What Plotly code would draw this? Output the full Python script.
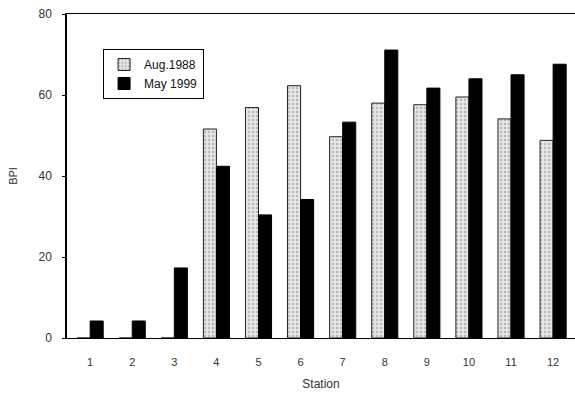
import plotly.graph_objects as go

stations = [1, 2, 3, 4, 5, 6, 7, 8, 9, 10, 11, 12]
aug_1988 = [0, 0, 0, 51.6, 56.9, 62.3, 49.7, 58.0, 57.6, 59.5, 54.1, 48.8]
may_1999 = [4.2, 4.2, 17.3, 42.4, 30.4, 34.2, 53.3, 71.1, 61.7, 64.0, 65.0, 67.6]
y_ticks = [0, 20, 40, 60, 80]

font_family = "Liberation Sans, Arial, sans-serif"

fig = go.Figure()
fig.add_trace(go.Bar(
    x=stations, y=aug_1988, name="Aug.1988",
    marker=dict(color="#d9d9d9", line=dict(color="#222", width=1),
                pattern=dict(shape=".", fgcolor="#8a8a8a", bgcolor="#e6e6e6", size=4, solidity=0.3)),
))
fig.add_trace(go.Bar(
    x=stations, y=may_1999, name="May 1999",
    marker=dict(color="#000000", line=dict(color="#000", width=1)),
))

fig.update_layout(
    width=575, height=396,
    margin=dict(l=67, r=0, t=14, b=58),
    paper_bgcolor="white", plot_bgcolor="white",
    barmode="group", bargap=0.38, bargroupgap=0,
    font=dict(family=font_family, size=11, color="#333"),
    showlegend=True,
    legend=dict(x=0.071, y=0.892, xanchor="left", yanchor="top",
                bordercolor="#000", borderwidth=1, bgcolor="white",
                font=dict(size=12, color="#111"), tracegroupgap=2,
                itemwidth=30),
    xaxis=dict(range=[0.45, 12.52], tickvals=stations, ticktext=[str(s) for s in stations],
               showgrid=False, zeroline=False, showline=True, linecolor="#000", linewidth=1,
               mirror=True, ticks="", ticklabelstandoff=14,
               title=dict(text="Station", font=dict(size=12, color="#333"), standoff=12)),
    yaxis=dict(range=[0, 80], tickvals=y_ticks, showgrid=False, zeroline=False,
               showline=True, linecolor="#000", linewidth=1.5, ticks="outside", ticklen=3,
               tickcolor="#000", ticklabelstandoff=8, tickfont=dict(size=12),
               title=dict(text="BPI", font=dict(size=11, color="#333"), standoff=19)),
)

fig.write_html("out.html")
